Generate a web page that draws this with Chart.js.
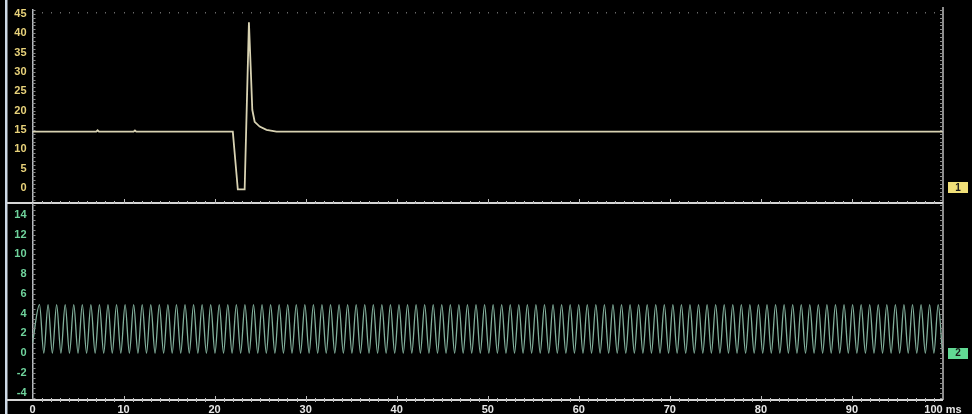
<!DOCTYPE html>
<html>
<head>
<meta charset="utf-8">
<script src="https://cdn.jsdelivr.net/npm/chart.js@4.4.0/dist/chart.umd.min.js"></script>
<style>
  html, body { margin: 0; padding: 0; background: #000; }
  #scope { position: relative; width: 972px; height: 414px; background: #000; overflow: hidden; }
  #top_wrap { position: absolute; left: 0; top: 0; width: 972px; height: 204px; }
  #bot_wrap { position: absolute; left: 0; top: 203px; width: 972px; height: 211px; }
</style>
</head>
<body>
<div id="scope">
    <div id="top_wrap"><canvas id="ch1_chart" width="972" height="204"></canvas></div>
    <div id="bot_wrap"><canvas id="ch2_chart" width="972" height="211"></canvas></div>
</div>
<script>
// channel 1 - ignition style spike (ms / volts)
var ch1_times = [0, 7.0, 7.15, 7.3, 11.1, 11.25, 11.4, 22.0, 22.55, 23.3, 23.77, 23.96, 24.14, 24.4, 24.95, 25.7, 26.8, 100];
var ch1_volts = [14.55, 14.55, 14.9, 14.55, 14.55, 14.85, 14.55, 14.55, -0.4, -0.4, 42.8, 31.4, 20.2, 17.1, 15.85, 15.0, 14.56, 14.55];

// channel 2 - sensor oscillation, peaks / troughs (ms / volts)
var ch2_times = [0,
    0.77, 1.24, 1.71, 2.18, 2.65, 3.12, 3.59, 4.06, 4.53, 5.00,
    5.47, 5.94, 6.41, 6.88, 7.35, 7.82, 8.29, 8.76, 9.23, 9.70,
    10.17, 10.64, 11.11, 11.58, 12.05, 12.52, 12.99, 13.46, 13.93, 14.40,
    14.87, 15.34, 15.81, 16.28, 16.75, 17.22, 17.69, 18.16, 18.63, 19.10,
    19.57, 20.04, 20.51, 20.98, 21.45, 21.92, 22.39, 22.86, 23.33, 23.80,
    24.27, 24.74, 25.21, 25.68, 26.15, 26.62, 27.09, 27.56, 28.03, 28.50,
    28.97, 29.44, 29.91, 30.38, 30.85, 31.32, 31.79, 32.26, 32.73, 33.20,
    33.67, 34.14, 34.61, 35.08, 35.55, 36.02, 36.49, 36.96, 37.43, 37.90,
    38.37, 38.84, 39.31, 39.78, 40.25, 40.72, 41.19, 41.66, 42.13, 42.60,
    43.07, 43.54, 44.01, 44.48, 44.95, 45.42, 45.89, 46.36, 46.83, 47.30,
    47.77, 48.24, 48.71, 49.18, 49.65, 50.12, 50.59, 51.06, 51.53, 52.00,
    52.47, 52.94, 53.41, 53.88, 54.35, 54.82, 55.29, 55.76, 56.23, 56.70,
    57.17, 57.64, 58.11, 58.58, 59.05, 59.52, 59.99, 60.46, 60.93, 61.40,
    61.87, 62.34, 62.81, 63.28, 63.75, 64.22, 64.69, 65.16, 65.63, 66.10,
    66.57, 67.04, 67.51, 67.98, 68.45, 68.92, 69.39, 69.86, 70.33, 70.80,
    71.27, 71.74, 72.21, 72.68, 73.15, 73.62, 74.09, 74.56, 75.03, 75.50,
    75.97, 76.44, 76.91, 77.38, 77.85, 78.32, 78.79, 79.26, 79.73, 80.20,
    80.67, 81.14, 81.61, 82.08, 82.55, 83.02, 83.49, 83.96, 84.43, 84.90,
    85.37, 85.84, 86.31, 86.78, 87.25, 87.72, 88.19, 88.66, 89.13, 89.60,
    90.07, 90.54, 91.01, 91.48, 91.95, 92.42, 92.89, 93.36, 93.83, 94.30,
    94.77, 95.24, 95.71, 96.18, 96.65, 97.12, 97.59, 98.06, 98.53, 99.00,
    99.47, 99.94];
var ch2_volts = [1.0,
    4.9, 0, 4.9, 0, 4.9, 0, 4.9, 0, 4.9, 0,
    4.9, 0, 4.9, 0, 4.9, 0, 4.9, 0, 4.9, 0,
    4.9, 0, 4.9, 0, 4.9, 0, 4.9, 0, 4.9, 0,
    4.9, 0, 4.9, 0, 4.9, 0, 4.9, 0, 4.9, 0,
    4.9, 0, 4.9, 0, 4.9, 0, 4.9, 0, 4.9, 0,
    4.9, 0, 4.9, 0, 4.9, 0, 4.9, 0, 4.9, 0,
    4.9, 0, 4.9, 0, 4.9, 0, 4.9, 0, 4.9, 0,
    4.9, 0, 4.9, 0, 4.9, 0, 4.9, 0, 4.9, 0,
    4.9, 0, 4.9, 0, 4.9, 0, 4.9, 0, 4.9, 0,
    4.9, 0, 4.9, 0, 4.9, 0, 4.9, 0, 4.9, 0,
    4.9, 0, 4.9, 0, 4.9, 0, 4.9, 0, 4.9, 0,
    4.9, 0, 4.9, 0, 4.9, 0, 4.9, 0, 4.9, 0,
    4.9, 0, 4.9, 0, 4.9, 0, 4.9, 0, 4.9, 0,
    4.9, 0, 4.9, 0, 4.9, 0, 4.9, 0, 4.9, 0,
    4.9, 0, 4.9, 0, 4.9, 0, 4.9, 0, 4.9, 0,
    4.9, 0, 4.9, 0, 4.9, 0, 4.9, 0, 4.9, 0,
    4.9, 0, 4.9, 0, 4.9, 0, 4.9, 0, 4.9, 0,
    4.9, 0, 4.9, 0, 4.9, 0, 4.9, 0, 4.9, 0,
    4.9, 0, 4.9, 0, 4.9, 0, 4.9, 0, 4.9, 0,
    4.9, 0, 4.9, 0, 4.9, 0, 4.9, 0, 4.9, 0,
    4.9, 0, 4.9, 0, 4.9, 0, 4.9, 0, 4.9, 0,
    4.9, 0];

// time axis labels
var x_tick_values = [0, 10, 20, 30, 40, 50, 60, 70, 80, 90, 100];
var x_tick_labels = ['0', '10', '20', '30', '40', '50', '60', '70', '80', '90', '100 ms'];

var label_font = { family: '"Liberation Sans", Arial, sans-serif', size: 11, weight: 'bold' };

function toPoints(xs, ys) {
    var pts = [];
    for (var i = 0; i < xs.length; i++) pts.push({ x: xs[i], y: ys[i] });
    return pts;
}

// scope frame: bezel, base line, minor ticks, channel marker
var scopeFrame = {
    id: 'scopeFrame',
    afterDatasetsDraw: function (chart, args, opts) {
        var ctx = chart.ctx, a = chart.chartArea;
        var xs = chart.scales.x, ys = chart.scales.y;
        var ms, v, px, py;
        ctx.save();

        // left bezel
        ctx.fillStyle = '#cdd9e6';
        ctx.fillRect(5, 0, 2.5, chart.height);

        // right border
        ctx.strokeStyle = '#bdbdbd';
        ctx.lineWidth = 1.5;
        ctx.beginPath();
        ctx.moveTo(a.right, a.top - opts.rightExtra);
        ctx.lineTo(a.right, a.bottom);
        ctx.stroke();

        // base line
        ctx.strokeStyle = '#d6d6d6';
        ctx.lineWidth = 2;
        ctx.beginPath();
        ctx.moveTo(7, a.bottom);
        ctx.lineTo(a.right, a.bottom);
        ctx.stroke();

        // ticks on base line
        ctx.strokeStyle = '#bcbcbc';
        ctx.lineWidth = 1;
        ctx.beginPath();
        for (ms = 1; ms < 100; ms++) {
            px = Math.round(xs.getPixelForValue(ms)) + 0.5;
            var len = ms % 10 === 0 ? 4 : 2;
            ctx.moveTo(px, a.bottom - len);
            ctx.lineTo(px, a.bottom + 2);
        }
        ctx.stroke();

        // dotted top edge
        if (opts.topDots) {
            ctx.fillStyle = '#6a6a6a';
            for (ms = 1; ms < 100; ms++) {
                px = Math.round(xs.getPixelForValue(ms));
                ctx.fillRect(px, a.top + 2, 1, 1.5);
            }
        }

        // minor ticks on left and right axes
        ctx.strokeStyle = '#8a8a8a';
        ctx.beginPath();
        for (v = Math.ceil(ys.min / opts.minorStep) * opts.minorStep; v <= ys.max; v += opts.minorStep) {
            py = Math.round(ys.getPixelForValue(v)) + 0.5;
            ctx.moveTo(a.left, py);
            ctx.lineTo(a.left + 3, py);
            ctx.moveTo(a.right - 3, py);
            ctx.lineTo(a.right, py);
        }
        ctx.stroke();

        // channel marker at zero level
        var y0 = ys.getPixelForValue(0);
        ctx.fillStyle = opts.markColor;
        ctx.fillRect(a.right + 5, Math.round(y0 - 5.5), 20, 11);
        ctx.fillStyle = '#1a1a1a';
        ctx.font = 'bold 10px "Liberation Sans", Arial, sans-serif';
        ctx.textAlign = 'center';
        ctx.textBaseline = 'middle';
        ctx.fillText(opts.markText, a.right + 15, y0 + 0.5);
        ctx.restore();
    }
};

function yAxis(min, max, step, color) {
    return {
        min: min,
        max: max,
        border: { display: true, color: '#b8bcc0', width: 1.5 },
        grid: { display: false, drawTicks: false },
        ticks: { stepSize: step, includeBounds: false, color: color, font: label_font, padding: 6 },
        afterFit: function (scale) {
            scale.width = 32.5;
            scale.paddingTop = 0;
            scale.paddingBottom = 0;
        }
    };
}

var ctx_top = document.getElementById('ch1_chart').getContext('2d');
var ch1Chart = new Chart(ctx_top, {
    type: 'line',
    data: {
        datasets: [{
            data: toPoints(ch1_times, ch1_volts),
            borderColor: '#d8d2b2',
            borderWidth: 1.8,
            pointRadius: 0,
            tension: 0
        }]
    },
    options: {
        responsive: false,
        animation: false,
        devicePixelRatio: 1,
        layout: { padding: { left: 0, right: 29, top: 10, bottom: 1 } },
        plugins: {
            legend: { display: false },
            tooltip: { enabled: false },
            scopeFrame: { markText: '1', markColor: '#f0df78', minorStep: 1, topDots: true, rightExtra: 3 }
        },
        scales: {
            x: { type: 'linear', min: 0, max: 100, display: false },
            y: yAxis(-3.9, 46, 5, '#e8d27a')
        }
    },
    plugins: [scopeFrame]
});

var ctx_bot = document.getElementById('ch2_chart').getContext('2d');
var ch2Chart = new Chart(ctx_bot, {
    type: 'line',
    data: {
        datasets: [{
            data: toPoints(ch2_times, ch2_volts),
            borderColor: '#82b09c',
            borderWidth: 1.3,
            pointRadius: 0,
            cubicInterpolationMode: 'monotone'
        }]
    },
    options: {
        responsive: false,
        animation: false,
        devicePixelRatio: 1,
        layout: { padding: { left: 0, right: 29, top: 0, bottom: 0 } },
        plugins: {
            legend: { display: false },
            tooltip: { enabled: false },
            scopeFrame: { markText: '2', markColor: '#62d994', minorStep: 0.5, topDots: false, rightExtra: 0 }
        },
        scales: {
            x: {
                type: 'linear',
                min: 0,
                max: 100,
                border: { display: false },
                grid: { display: false, drawTicks: false },
                ticks: {
                    stepSize: 10,
                    autoSkip: false,
                    maxRotation: 0,
                    color: '#e6e6e6',
                    font: label_font,
                    padding: 3,
                    callback: function (value) {
                        var i = x_tick_values.indexOf(value);
                        return i < 0 ? '' : x_tick_labels[i];
                    }
                },
                afterFit: function (scale) {
                    scale.height = 14;
                    scale.paddingLeft = 0;
                    scale.paddingRight = 0;
                }
            },
            y: yAxis(-4.75, 15.2, 2, '#6fd39c')
        }
    },
    plugins: [scopeFrame]
});
</script>
</body>
</html>
